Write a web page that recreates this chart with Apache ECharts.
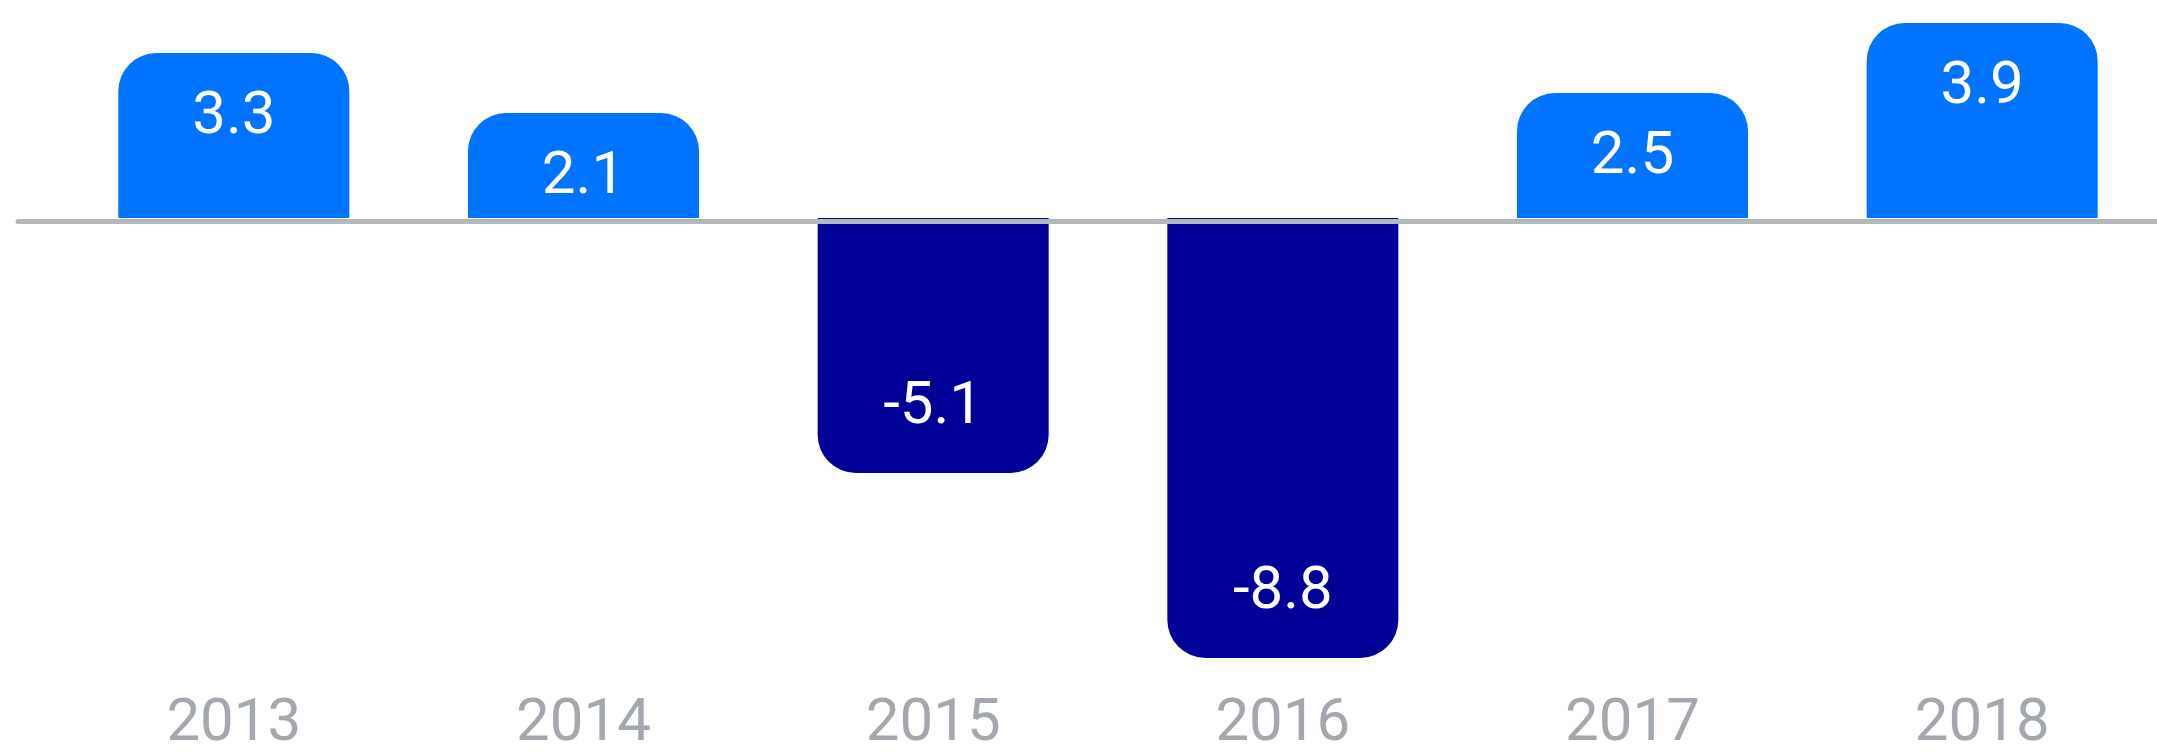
<!DOCTYPE html>
<html>
<head>
<meta charset="utf-8">
<script src="https://cdn.jsdelivr.net/npm/echarts@6/dist/echarts.min.js"></script>
<style>
  html, body { margin: 0; padding: 0; background: #fff; width: 100%; height: 100%; overflow: hidden; }
  #bar-chart { width: 100%; height: 100%; }
</style>
</head>
<body>
<div id="bar-chart"></div>
<script>
// 数据
var years = ["2013", "2014", "2015", "2016", "2017", "2018"];
var values = [3.3, 2.1, -5.1, -8.8, 2.5, 3.9];

var colorUp = "#0073ff";
var colorDown = "#000096";

var myChart = echarts.init(document.getElementById("bar-chart"));

var barData = values.map(function(v) {
  var up = v >= 0;
  return {
    value: v,
    itemStyle: {
      color: up ? colorUp : colorDown,
      borderRadius: up ? [38, 38, 0, 0] : [0, 0, 38, 38]
    },
    label: {
      position: up ? "insideTop" : "insideBottom"
    }
  };
});

myChart.setOption({
  animation: false,
  grid: [
    { left: 59, right: 0, top: 8, height: 669 },
    { left: 18, right: 0, top: 8, height: 669 }
  ],
  xAxis: [
    {
      type: "category",
      gridIndex: 0,
      data: years,
      position: "bottom",
      axisLine: { show: false, onZero: false },
      axisTick: { show: false },
      axisLabel: {
        margin: 27,
        fontFamily: "Roboto",
        fontSize: 60,
        color: "#a3a8ae"
      }
    },
    {
      type: "category",
      gridIndex: 1,
      data: years,
      z: 3,
      axisLine: {
        show: true,
        onZero: true,
        lineStyle: { color: "#b3b8bd", width: 5 }
      },
      axisTick: { show: false },
      axisLabel: { show: false }
    }
  ],
  yAxis: [
    { type: "value", gridIndex: 0, min: -9, max: 4.2, show: false },
    { type: "value", gridIndex: 1, min: -9, max: 4.2, show: false }
  ],
  series: [
    {
      type: "bar",
      xAxisIndex: 0,
      yAxisIndex: 0,
      barWidth: 231,
      data: barData,
      label: {
        show: true,
        distance: 35,
        fontFamily: "Roboto",
        fontSize: 60,
        color: "#ffffff"
      }
    }
  ]
});
</script>
</body>
</html>
